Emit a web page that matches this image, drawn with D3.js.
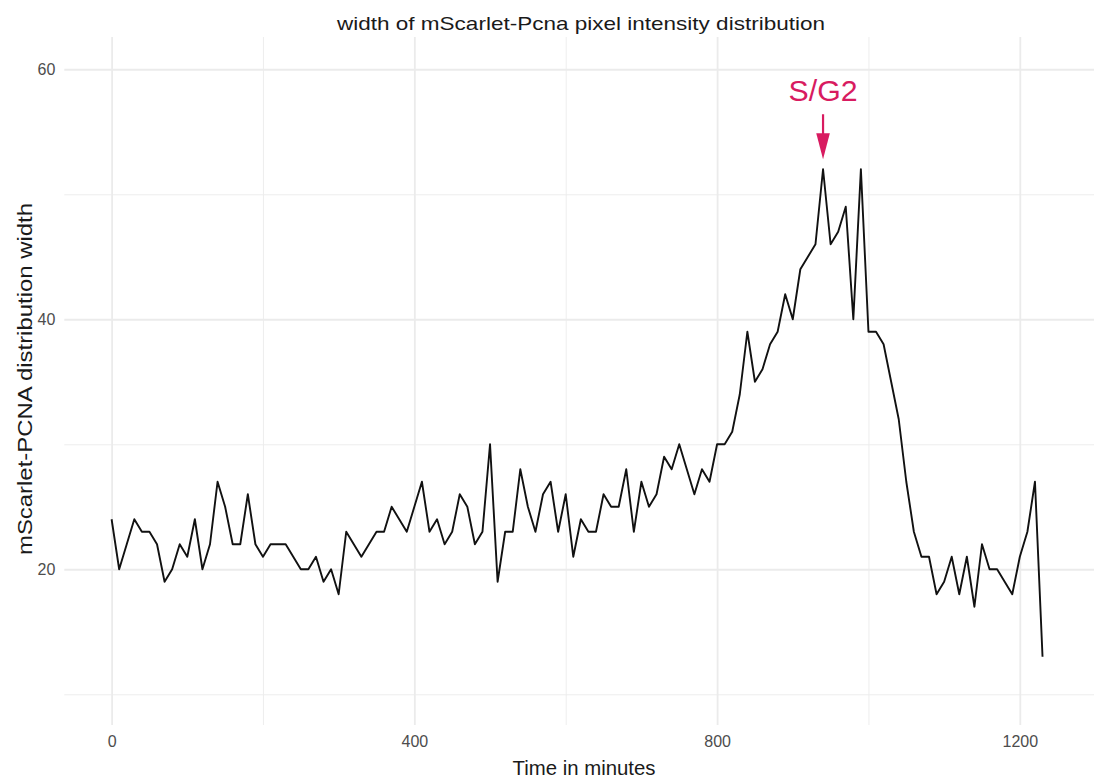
<!DOCTYPE html>
<html>
<head>
<meta charset="utf-8">
<script src="https://d3js.org/d3.v7.min.js"></script>
<style>
  body { margin: 0; background: #fff; }
  text { font-family: "Liberation Sans", Arial, sans-serif; }
</style>
</head>
<body>
<script>
// width of the mScarlet-Pcna pixel intensity distribution over time

// time points in minutes
var times = [0,10,20,30,40,50,60,70,80,90,100,110,120,130,140,150,160,170,180,190,
  200,210,220,230,240,250,260,270,280,290,300,310,320,330,340,350,360,370,380,390,
  400,410,420,430,440,450,460,470,480,490,500,510,520,530,540,550,560,570,580,590,
  600,610,620,630,640,650,660,670,680,690,700,710,720,730,740,750,760,770,780,790,
  800,810,820,830,840,850,860,870,880,890,900,910,920,930,940,950,960,970,980,990,
  1000,1010,1020,1030,1040,1050,1060,1070,1080,1090,1100,1110,1120,1130,1140,1150,
  1160,1170,1180,1190,1200,1210,1220,1230];

// distribution width
var widths = [24,20,22,24,23,23,22,19,20,22,21,24,20,22,27,25,22,22,26,22,
  21,22,22,22,21,20,20,21,19,20,18,23,22,21,22,23,23,25,24,23,
  25,27,23,24,22,23,26,25,22,23,30,19,23,23,28,25,23,26,27,23,
  26,21,24,23,23,26,25,25,28,23,27,25,26,29,28,30,28,26,28,27,
  30,30,31,34,39,35,36,38,39,42,40,44,45,46,52,46,47,49,40,52,
  39,39,38,35,32,27,23,21,21,18,19,21,18,21,17,22,20,20,19,18,
  21,23,27,13];

var xTicks = [0, 400, 800, 1200];
var xMinor = [200, 600, 1000];
var yTicks = [20, 40, 60];
var yMinor = [10, 30, 50];

// annotation (data units)
var noteText = "S/G2";
var noteTime = 940;
var noteTextY = 57.5;
var arrowStart = 56.4;
var arrowEnd = 52.8;

var w = 1094;
var h = 780;
// panel edges (named so they don't clash with window.top)
var pLeft = 64.3, pRight = 1094, pTop = 37, pBottom = 725;

var svg = d3.select("body")
            .append("svg")
            .attr("width", w)
            .attr("height", h);

var x = d3.scaleLinear().domain([-62.5, 1298]).range([pLeft, pRight]);
var y = d3.scaleLinear().domain([7.54, 62.58]).range([pBottom, pTop]);

// minor grid
svg.append("g")
   .attr("transform", "translate(0," + pBottom + ")")
   .call(d3.axisBottom(x).tickValues(xMinor).tickSize(-(pBottom - pTop)).tickFormat(""))
   .call(grid, 0.9);
svg.append("g")
   .attr("transform", "translate(" + pLeft + ",0)")
   .call(d3.axisLeft(y).tickValues(yMinor).tickSize(-(pRight - pLeft)).tickFormat(""))
   .call(grid, 0.9);

// major grid with labels
svg.append("g")
   .attr("transform", "translate(0," + pBottom + ")")
   .call(d3.axisBottom(x).tickValues(xTicks).tickSize(-(pBottom - pTop)).tickPadding(11).tickFormat(d3.format("d")))
   .call(grid, 1.8);
svg.append("g")
   .attr("transform", "translate(" + pLeft + ",0)")
   .call(d3.axisLeft(y).tickValues(yTicks).tickSize(-(pRight - pLeft)).tickPadding(9).tickFormat(d3.format("d")))
   .call(grid, 1.8);

function grid(g, sw){
    g.select(".domain").remove();
    g.selectAll("line").attr("stroke", "#ebebeb").attr("stroke-width", sw);
    g.selectAll("text")
     .attr("fill", "#4d4d4d")
     .style("font-size", "16px")
     .style("font-family", "'Liberation Sans', Arial, sans-serif");
}

// the line itself
var line = d3.line()
             .x(function(d, i){ return x(times[i]); })
             .y(function(d){ return y(d); });

svg.append("path")
   .datum(widths)
   .attr("d", line)
   .attr("fill", "none")
   .attr("stroke", "#111")
   .attr("stroke-width", 1.9)
   .attr("stroke-linejoin", "round");

// annotation arrow + label
var pink = "#d81b60";
var ax = x(noteTime);
var tipY = y(arrowEnd);
var headLen = 26, headHalf = 6.8;

svg.append("line")
   .attr("x1", ax).attr("x2", ax)
   .attr("y1", y(arrowStart)).attr("y2", tipY - headLen + 1)
   .attr("stroke", pink)
   .attr("stroke-width", 2.2);

svg.append("path")
   .attr("d", "M" + (ax - headHalf) + "," + (tipY - headLen) +
              "L" + (ax + headHalf) + "," + (tipY - headLen) +
              "L" + ax + "," + tipY + "Z")
   .attr("fill", pink);

svg.append("text")
   .attr("x", ax)
   .attr("y", y(noteTextY))
   .attr("text-anchor", "middle")
   .attr("fill", pink)
   .style("font-size", "29px")
   .attr("textLength", 69)
   .attr("lengthAdjust", "spacingAndGlyphs")
   .text(noteText);

// titles
svg.append("text")
   .attr("x", 581)
   .attr("y", 30)
   .attr("text-anchor", "middle")
   .attr("fill", "#1a1a1a")
   .style("font-size", "19px")
   .attr("textLength", 488)
   .attr("lengthAdjust", "spacingAndGlyphs")
   .text("width of mScarlet-Pcna pixel intensity distribution");

svg.append("text")
   .attr("x", 584)
   .attr("y", 775)
   .attr("text-anchor", "middle")
   .attr("fill", "#1a1a1a")
   .style("font-size", "20px")
   .attr("textLength", 143)
   .attr("lengthAdjust", "spacingAndGlyphs")
   .text("Time in minutes");

svg.append("text")
   .attr("transform", "translate(32,379) rotate(-90)")
   .attr("text-anchor", "middle")
   .attr("fill", "#1a1a1a")
   .style("font-size", "20px")
   .attr("textLength", 352)
   .attr("lengthAdjust", "spacingAndGlyphs")
   .text("mScarlet-PCNA distribution width");
</script>
</body>
</html>
